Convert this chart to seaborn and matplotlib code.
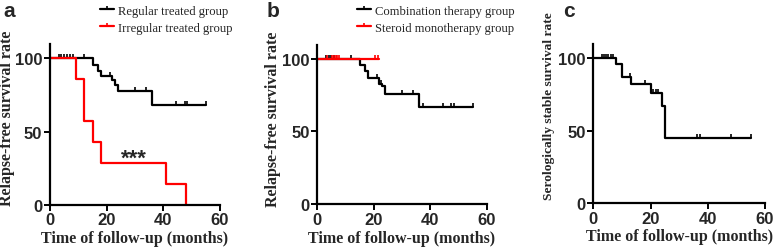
import numpy as np
import pandas as pd
import matplotlib
matplotlib.use("Agg")
import matplotlib.pyplot as plt
import seaborn as sns
from matplotlib.lines import Line2D

sns.set_style("ticks")
plt.rcParams["font.family"] = ["Liberation Serif", "DejaVu Serif"]

# ---------------- data ----------------
# Panel a
a_reg_t = [0, 15, 17, 18, 22, 23, 24, 36, 55]
a_reg_s = [100, 95.7, 91.5, 88.0, 85.0, 82.0, 77.5, 67.8, 67.8]
a_reg_cens = [3, 4, 5, 6, 7, 8, 12, 21, 23, 30, 34, 44.5, 47.5, 48.5, 55]
a_irr_t = [0, 9, 12, 15, 18, 41, 48]
a_irr_s = [100, 85.7, 57.1, 42.9, 28.6, 14.3, 0]
a_irr_cens = []

# Panel b
b_comb_t = [0, 15, 17, 18, 22, 23, 24, 36, 55]
b_comb_s = [100, 96.2, 91.9, 86.9, 82.8, 81.2, 76.0, 66.7, 66.7]
b_comb_cens = [3, 4, 5, 6, 12, 21, 22.5, 30, 34, 37.3, 44.5, 47.3, 48.3, 55]
b_ster_t = [0, 22]
b_ster_s = [100, 100]
b_ster_cens = [3.3, 5.1, 5.9, 6.6, 7.1, 7.8, 20.4, 21.6]

# Panel c
c_t = [0, 8, 10, 13, 20, 24, 25, 55]
c_s = [100, 95.8, 86.9, 82.3, 75.8, 67.3, 44.9, 44.9]
c_cens = [2.9, 3.7, 4.4, 5.2, 6.1, 7.0, 12.8, 18.1, 21.0, 21.9, 22.7, 36.1, 37.3, 48, 55]

legend_a = ["Regular treated group", "Irregular treated group"]
legend_b = ["Combination therapy group", "Steroid monotherapy group"]
ylabels = ["Relapse-free survival rate", "Relapse-free survival rate",
           "Serologically stable survival rate"]
xlabel = "Time of follow-up (months)"
panel_letters = ["a", "b", "c"]
xticks = [0, 20, 40, 60]
yticks = [0, 50, 100]

BLACK = "#000000"
RED = "#ff0000"
TICK_MARK = [(0, 0), (0, 1)]

fig = plt.figure(figsize=(7.78, 2.51), dpi=100)
positions = [
    [0.0643, 0.1805, 0.2185, 0.6415],
    [0.4079, 0.1833, 0.2177, 0.6354],
    [0.7626, 0.1873, 0.2207, 0.6347],
]
axes = [fig.add_axes(p) for p in positions]


def step_val(t, s, x):
    t = np.asarray(t, float)
    s = np.asarray(s, float)
    idx = np.searchsorted(t, x, side="right") - 1
    return s[np.clip(idx, 0, len(s) - 1)]


def km(ax, t, s, cens, color):
    df = pd.DataFrame({"t": t, "s": s})
    sns.lineplot(data=df, x="t", y="s", ax=ax, color=color, lw=1.6,
                 drawstyle="steps-post", estimator=None, sort=False)
    if len(cens):
        cy = step_val(t, s, np.asarray(cens, float))
        ax.plot(cens, cy, ls="none", marker=TICK_MARK, ms=6, mew=1.2,
                color=color, clip_on=False)


km(axes[0], a_reg_t, a_reg_s, a_reg_cens, BLACK)
km(axes[0], a_irr_t, a_irr_s, a_irr_cens, RED)
km(axes[1], b_comb_t, b_comb_s, b_comb_cens, BLACK)
km(axes[1], b_ster_t, b_ster_s, b_ster_cens, RED)
km(axes[2], c_t, c_s, c_cens, BLACK)

axes[0].text(29.5, 31.5, "***", ha="center", va="center", fontsize=16,
             family="Liberation Sans", fontweight="bold")

ylabel_sizes = [11.5, 11.5, 9.7]
ylabel_x = [-0.206, -0.214, -0.223]
ylabel_y = [0.54, 0.54, 0.615]
letter_x = [0.004, 0.343, 0.724]
for i, ax in enumerate(axes):
    ax.set_xlim(0, 60)
    ax.set_ylim(0, 110)
    ax.set_xticks(xticks)
    ax.set_yticks(yticks)
    for sp in ["top", "right"]:
        ax.spines[sp].set_visible(False)
    for sp in ["left", "bottom"]:
        ax.spines[sp].set_linewidth(1.6)
        ax.spines[sp].set_color("black")
    ax.tick_params(axis="both", direction="out", length=4, width=1.4,
                   labelsize=12, pad=1.5, color="black")
    for lab in ax.get_xticklabels() + ax.get_yticklabels():
        lab.set_family("Liberation Sans")
        lab.set_fontweight("bold")
    ax.set_xlabel(xlabel, fontsize=11.5, fontweight="bold")
    ax.xaxis.set_label_coords(0.5, -0.16)
    ax.set_ylabel(ylabels[i], fontsize=ylabel_sizes[i], fontweight="bold")
    ax.yaxis.set_label_coords(ylabel_x[i], ylabel_y[i])
    fig.text(letter_x[i], 0.956, panel_letters[i], fontsize=15,
             fontweight="bold", family="Liberation Sans", ha="left",
             va="center")


def legend(x0, labels, colors):
    handles = [Line2D([0], [0], color=c, lw=1.6, marker=TICK_MARK, ms=5,
                      mew=1.2) for c in colors]
    fig.legend(handles, labels, loc="upper left", bbox_to_anchor=(x0, 0.978),
               frameon=False, fontsize=9.1, handlelength=1.1,
               handletextpad=0.3, labelspacing=0.42, borderpad=0,
               borderaxespad=0, numpoints=1)


legend(0.1285, legend_a, [BLACK, RED])
legend(0.4589, legend_b, [BLACK, RED])

fig.savefig("out.png", dpi=100)
